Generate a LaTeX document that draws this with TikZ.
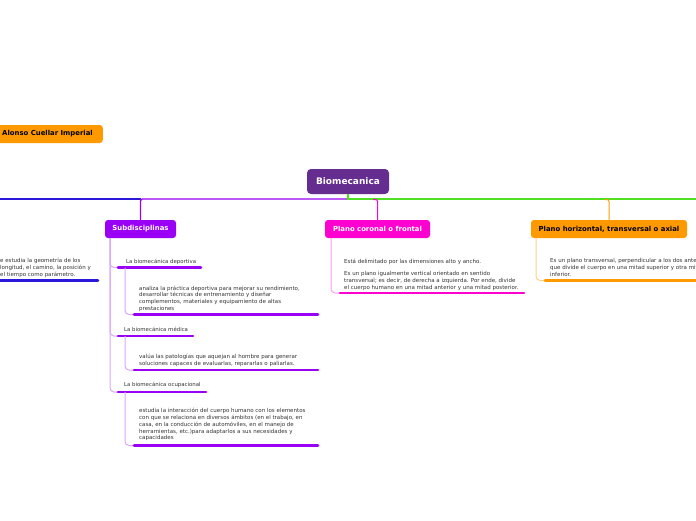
\documentclass[tikz,border=0pt]{standalone}
\usepackage{fontspec}
\setmainfont{DejaVu Sans}
\definecolor{rootc}{HTML}{662D91}
\definecolor{purpc}{HTML}{9A00F5}
\definecolor{lpurpc}{HTML}{D6A6FF}
\definecolor{pinkc}{HTML}{FF00D0}
\definecolor{lpinkc}{HTML}{FF9CEE}
\definecolor{orangec}{HTML}{FF9900}
\definecolor{lorangec}{HTML}{FFD08A}
\definecolor{greenc}{HTML}{4FE021}
\definecolor{bluec}{HTML}{2B18D9}
\definecolor{txtc}{HTML}{333333}
\begin{document}
\begin{tikzpicture}[x=1pt,y=-1pt,
  topicbox/.style={rounded corners=3pt, inner sep=0pt, minimum height=18pt,
    font=\fontsize{6.9}{8}\selectfont\bfseries, text=white},
  subtitle/.style={anchor=west, inner sep=0pt, text=txtc, font=\fontsize{5.4}{6.5}\selectfont},
  bodytext/.style={anchor=north west, inner sep=0pt, text=txtc, align=left,
    font=\fontsize{5.5}{6.7}\selectfont},
  conn/.style={line width=1pt},
  mainline/.style={line width=1.3pt},
  uline/.style={line width=2.6pt, line cap=round}]
\useasboundingbox (0,0) rectangle (696,520);
\clip (0,0) rectangle (696,520);

% main topics
\node[topicbox, rounded corners=4pt, fill=rootc, minimum width=82pt, minimum height=25pt,
  font=\fontsize{9}{10}\selectfont\bfseries] (bio) at (348,181.5) {Biomecanica};
\node[topicbox, fill=orangec, text=black, anchor=east, inner xsep=10pt] (alonso) at (103,134) {Alonso Cuellar Imperial};
\node[topicbox, fill=purpc, minimum width=71pt] (sub) at (140.5,229) {Subdisciplinas};
\node[topicbox, fill=pinkc, minimum width=105pt] (cor) at (377.5,229) {Plano coronal o frontal};
\node[topicbox, fill=orangec, text=black, minimum width=156pt] (hor) at (609,229) {Plano horizontal, transversal o axial};

% main connectors
\coordinate (hub) at (348,199);
\coordinate (rightend) at (700,199);
\coordinate (leftend) at (-5,199);
\coordinate (subfork) at (141,199);
\draw[bluec, mainline] (subfork) -- (leftend);
\draw[purpc, mainline, rounded corners=2pt] (hub) -| (sub.north);
\draw[greenc, mainline] (bio.south) -- (hub) -- (rightend);
\draw[pinkc, conn, rounded corners=2pt] (373,199.5) -| (cor.north);
\draw[orangec, conn, rounded corners=2pt] (605,199.5) -| (hor.north);

% left (clipped) branch
\node[bodytext] (lefttext) at (0,258.3) {e estudia la geometría de los\\longitud, el camino, la posición y\\el tiempo como parámetro.};
\coordinate (lua) at (-5,280.5);
\coordinate (lub) at (98,280.5);
\draw[bluec, uline] (lua) -- (lub);

% Subdisciplinas children
\coordinate (subdrop) at (110,238);
\node[subtitle] (dep) at (126,261.5) {La biomecánica deportiva};
\coordinate (depa) at (118,267.5);
\coordinate (depb) at (201,267.5);
\node[subtitle] (med) at (124,329) {La biomecánica médica};
\coordinate (meda) at (118,336);
\coordinate (medb) at (193,336);
\node[subtitle] (ocu) at (124,385) {La biomecánica ocupacional};
\coordinate (ocua) at (118,392);
\coordinate (ocub) at (206,392);
\draw[lpurpc, conn, rounded corners=4pt] (subdrop) |- (depa);
\draw[lpurpc, conn, rounded corners=4pt] (subdrop) |- (meda);
\draw[lpurpc, conn, rounded corners=4pt] (subdrop) |- (ocua);
\draw[purpc, uline] (depa) -- (depb);
\draw[purpc, uline] (meda) -- (medb);
\draw[purpc, uline] (ocua) -- (ocub);

\node[bodytext] (dept) at (139,285.5) {analiza la práctica deportiva para mejorar su rendimiento,\\desarrollar técnicas de entrenamiento y diseñar\\complementos, materiales y equipamiento de altas\\prestaciones};
\coordinate (depta) at (134,314.5);
\coordinate (deptb) at (318,314.5);
\node[bodytext] (medt) at (139,354.3) {valúa las patologías que aquejan al hombre para generar\\soluciones capaces de evaluarlas, repararlas o paliarlas.};
\coordinate (medta) at (134,370);
\coordinate (medtb) at (318,370);
\node[bodytext] (ocut) at (139,408.3) {estudia la interacción del cuerpo humano con los elementos\\con que se relaciona en diversos ámbitos (en el trabajo, en\\casa, en la conducción de automóviles, en el manejo de\\herramientas, etc.)para adaptarlos a sus necesidades y\\capacidades};
\coordinate (ocuta) at (134,445.5);
\coordinate (ocutb) at (318,445.5);
\coordinate (depdrop) at (125,267.5);
\coordinate (meddrop) at (125,336);
\coordinate (ocudrop) at (125,392);
\draw[lpurpc, conn, rounded corners=4pt] (depdrop) |- (depta);
\draw[lpurpc, conn, rounded corners=4pt] (meddrop) |- (medta);
\draw[lpurpc, conn, rounded corners=4pt] (ocudrop) |- (ocuta);
\draw[purpc, uline] (depta) -- (deptb);
\draw[purpc, uline] (medta) -- (medtb);
\draw[purpc, uline] (ocuta) -- (ocutb);

% Plano coronal child
\node[bodytext] (cort) at (344,259) {Está delimitado por las dimensiones alto y ancho.\\[5.4pt]Es un plano igualmente vertical orientado en sentido\\transversal; es decir, de derecha a izquierda. Por ende, divide\\el cuerpo humano en una mitad anterior y una mitad posterior.};
\coordinate (cordrop) at (331,238);
\coordinate (corta) at (340,293);
\coordinate (cortb) at (524,293);
\draw[lpinkc, conn, rounded corners=4pt] (cordrop) |- (corta);
\draw[pinkc, uline] (corta) -- (cortb);

% Plano horizontal child
\node[bodytext] (hort) at (550,258.5) {Es un plano transversal, perpendicular a los dos anteriores,\\que divide el cuerpo en una mitad superior y otra mitad\\inferior.};
\coordinate (hordrop) at (536,238);
\coordinate (horta) at (545,280.5);
\coordinate (hortb) at (705,280.5);
\draw[lorangec, conn, rounded corners=4pt] (hordrop) |- (horta);
\draw[orangec, uline] (horta) -- (hortb);
\end{tikzpicture}
\end{document}
